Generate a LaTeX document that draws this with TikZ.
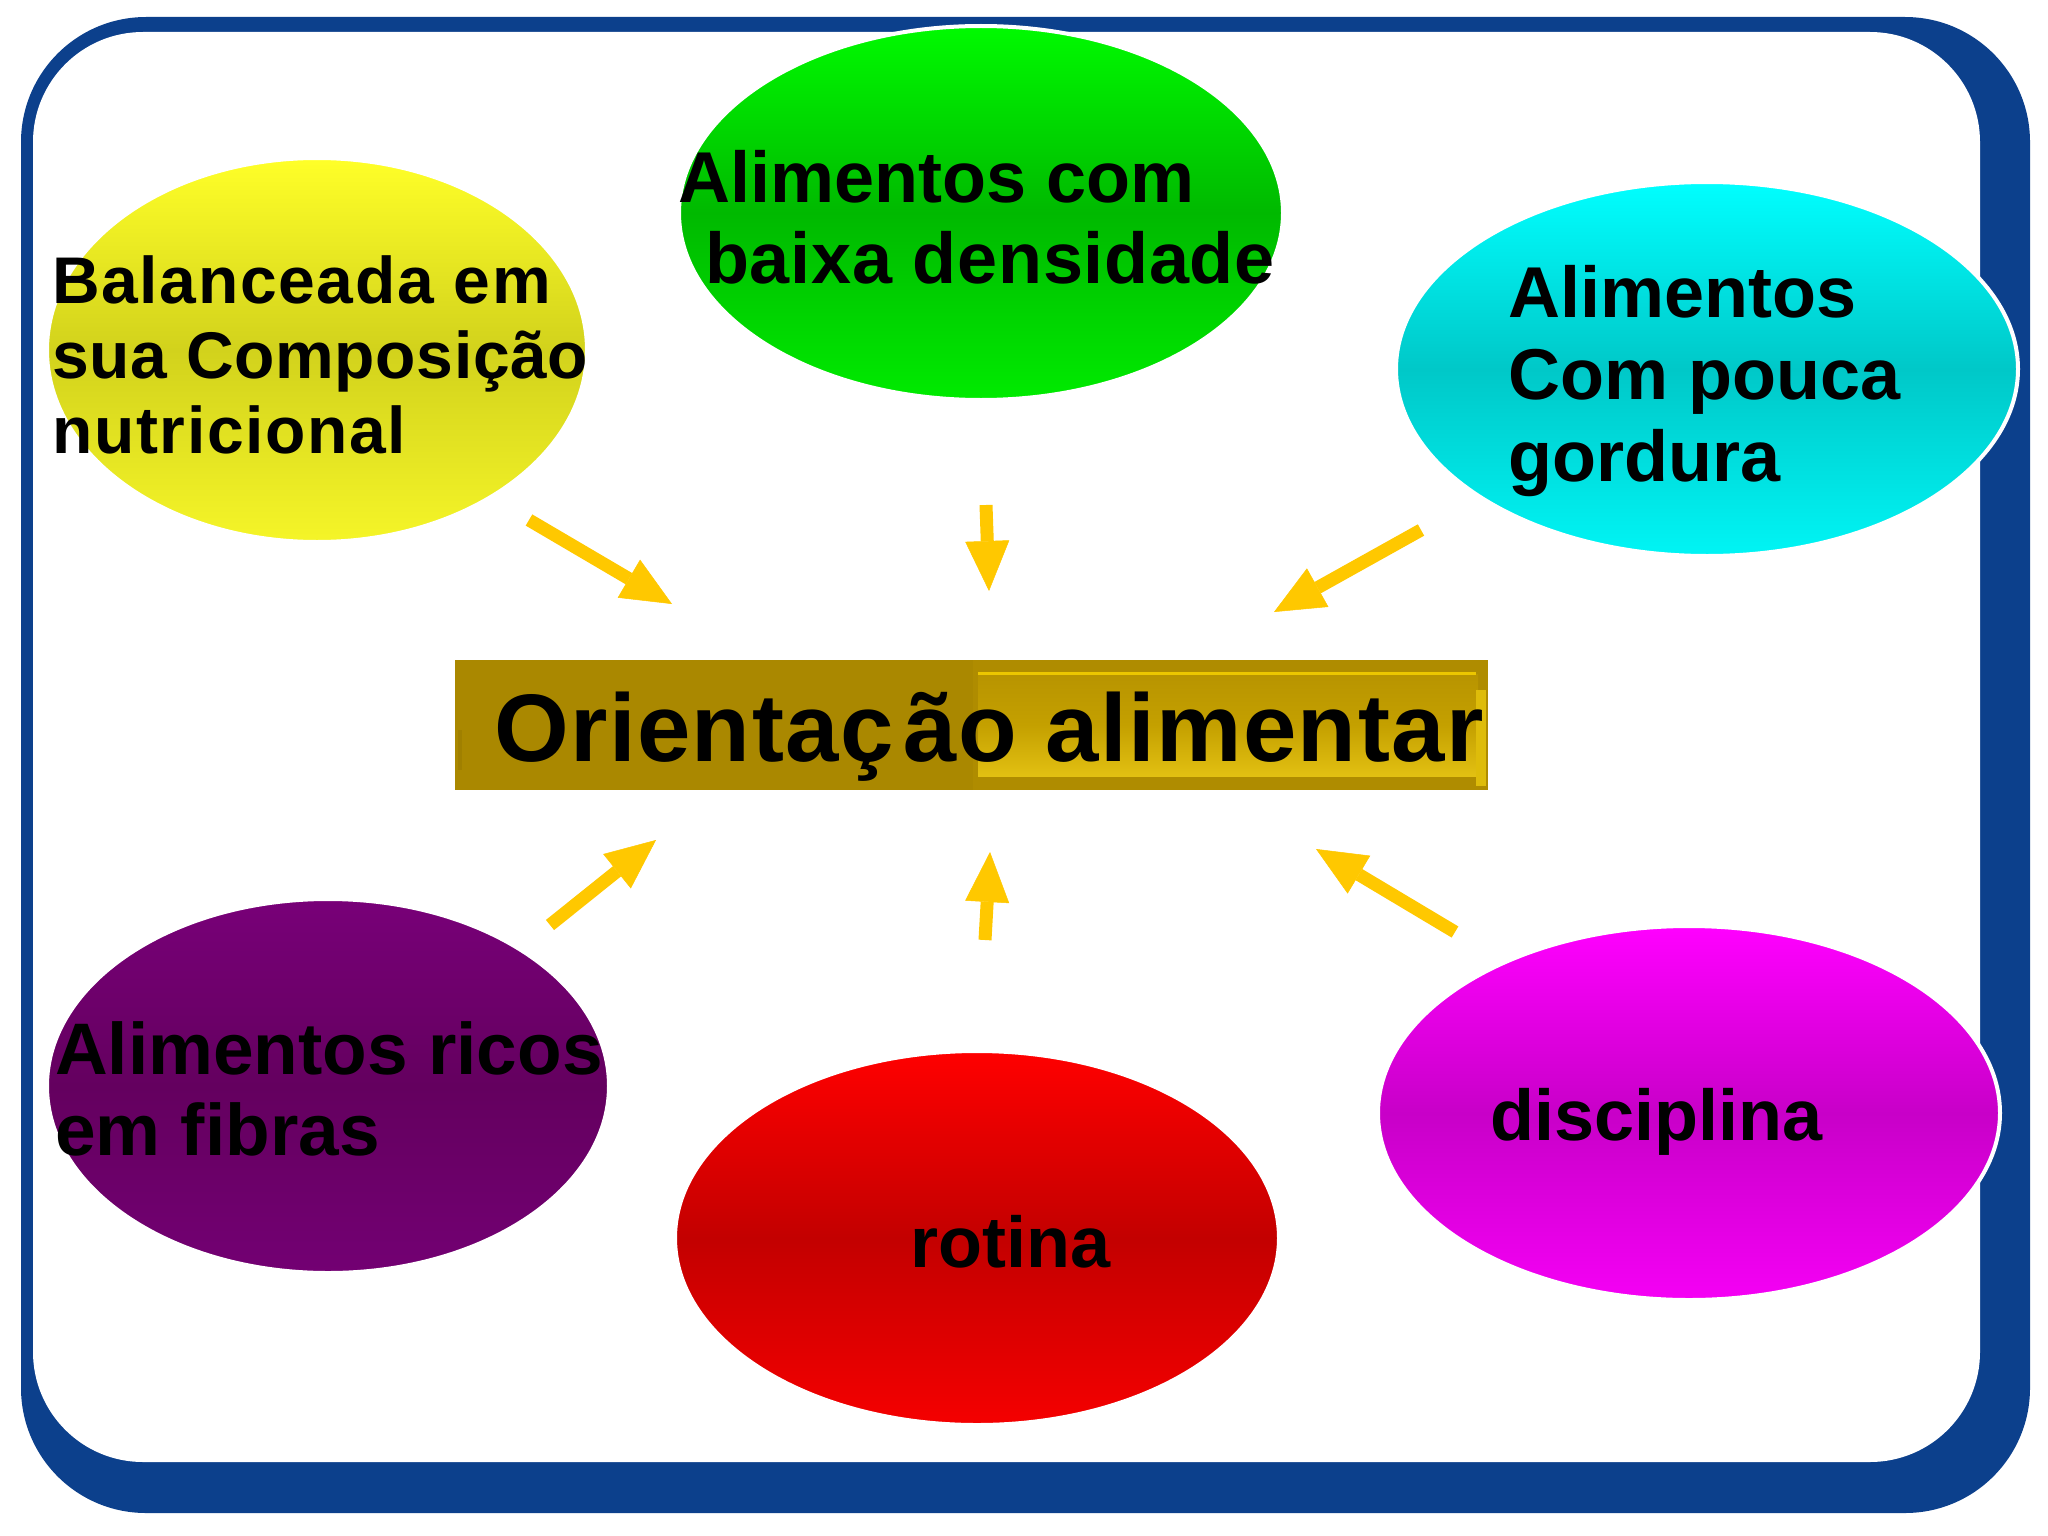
\documentclass[tikz,border=0pt]{standalone}
\usepackage{fontspec}
\setmainfont{Liberation Sans}
\usetikzlibrary{arrows.meta,shapes.geometric}
\definecolor{frameblue}{RGB}{12,64,140}
\definecolor{arrowgold}{RGB}{255,200,0}
\definecolor{boxgold}{RGB}{170,136,0}
\definecolor{boxgoldb}{RGB}{175,140,0}
\definecolor{boxtop}{RGB}{184,148,0}
\definecolor{boxmid}{RGB}{196,160,0}
\definecolor{boxbot}{RGB}{226,192,18}
\definecolor{boxline}{RGB}{236,198,0}
\definecolor{boxedge}{RGB}{222,188,10}
\definecolor{boxdark}{RGB}{160,128,0}
\definecolor{yelT}{RGB}{255,255,40}
\definecolor{yelM}{RGB}{210,210,28}
\definecolor{yelB}{RGB}{245,245,40}
\definecolor{grnT}{RGB}{0,250,0}
\definecolor{grnM}{RGB}{0,185,0}
\definecolor{grnB}{RGB}{0,235,0}
\definecolor{cyaT}{RGB}{0,255,255}
\definecolor{cyaM}{RGB}{0,200,200}
\definecolor{cyaB}{RGB}{0,245,245}
\definecolor{purT}{RGB}{120,0,120}
\definecolor{purM}{RGB}{100,0,95}
\definecolor{purB}{RGB}{115,0,115}
\definecolor{redT}{RGB}{255,0,0}
\definecolor{redM}{RGB}{195,0,0}
\definecolor{redB}{RGB}{245,0,0}
\definecolor{magT}{RGB}{255,0,255}
\definecolor{magM}{RGB}{200,0,200}
\definecolor{magB}{RGB}{245,0,245}
\begin{document}
\begin{tikzpicture}[x=1pt,y=-1pt,
  bubble/.style={ellipse, draw=white, line width=4pt, inner sep=0pt},
  lbl/.style={anchor=base west, inner sep=0pt, align=left, text=black,
              font=\bfseries\fontsize{72}{82}\selectfont},
  feed/.style={draw=arrowgold, line width=13pt,
              -{Triangle[length=50pt,width=44pt,line width=0.5pt,fill=arrowgold]}}
]
% canvas
\useasboundingbox (0,0) rectangle (2048,1536);
\fill[white] (0,0) rectangle (2048,1536);
% frame
\fill[frameblue, rounded corners=125pt] (21,17) rectangle (2030,1513);
\fill[white, rounded corners=110pt] (33,32) rectangle (1980,1462);

% bubbles
\node[bubble, minimum width=540pt, minimum height=384pt,
      top color=yelT, bottom color=yelB, middle color=yelM] (bal) at (317,350) {};
\node[bubble, minimum width=604pt, minimum height=374pt,
      top color=grnT, bottom color=grnB, middle color=grnM] (dens) at (981,213) {};
\node[bubble, minimum width=622pt, minimum height=374pt,
      top color=cyaT, bottom color=cyaB, middle color=cyaM] (gord) at (1707,369) {};
\node[bubble, minimum width=562pt, minimum height=374pt,
      top color=purT, bottom color=purB, middle color=purM] (fib) at (328,1086) {};
\node[bubble, minimum width=604pt, minimum height=374pt,
      top color=redT, bottom color=redB, middle color=redM] (rot) at (977,1238) {};
\node[bubble, minimum width=622pt, minimum height=374pt,
      top color=magT, bottom color=magB, middle color=magM] (disc) at (1689,1113) {};

% central box
\node[rectangle, fill=boxgold, minimum width=1033pt, minimum height=130pt,
      inner sep=0pt] (ori) at (971.5,725) {};
\fill[boxgoldb] (973,660) rectangle (1488,790);
\fill[top color=boxtop, bottom color=boxbot, middle color=boxmid] (978,674) rectangle (1478,776);
\draw[boxline, line width=3pt] (978,673) -- (1476,673);
\fill[boxedge] (1476,690) rectangle (1486,786);
\fill[boxdark] (458,730) rectangle (462,770);

% labels
\node[lbl, font={\addfontfeature{LetterSpace=2.5}\bfseries\fontsize{66}{75}\selectfont}] (tbal) at (52,453)
  {Balanceada em\\{\addfontfeature{LetterSpace=1}sua Composição}\\nutricional};
\node[lbl] (tdens1) at (678,202) {Alimentos com};
\node[lbl, font={\addfontfeature{LetterSpace=1}\bfseries\fontsize{72}{82}\selectfont}] (tdens2) at (705,283) {baixa densidade};
\node[lbl] (tgord) at (1508,481) {Alimentos\\Com pouca\\gordura};
\node[lbl, font=\bfseries\fontsize{73}{81}\selectfont] (tfib) at (55,1155)
  {Alimentos ricos\\em fibras};
\node[lbl] (trot) at (910,1267) {rotina};
\node[lbl] (tdisc) at (1490,1140) {disciplina};
\node[lbl, font={\addfontfeature{LetterSpace=1.5}\bfseries\fontsize{96}{110}\selectfont}]
  (tori) at (494,761) {Orientaç\kern10ptão alimentar};

% arrows
\coordinate (a1s) at (529,520); \coordinate (a1e) at (672,604);
\coordinate (a2s) at (986,505); \coordinate (a2e) at (989,591);
\coordinate (a3s) at (1421,530); \coordinate (a3e) at (1274,612);
\coordinate (a4s) at (550,925); \coordinate (a4e) at (656,840);
\coordinate (a5s) at (985,940); \coordinate (a5e) at (990,852);
\coordinate (a6s) at (1455,932); \coordinate (a6e) at (1316,849);
\draw[feed] (a1s) -- (a1e);
\draw[feed] (a2s) -- (a2e);
\draw[feed] (a3s) -- (a3e);
\draw[feed] (a4s) -- (a4e);
\draw[feed] (a5s) -- (a5e);
\draw[feed] (a6s) -- (a6e);
\end{tikzpicture}
\end{document}
